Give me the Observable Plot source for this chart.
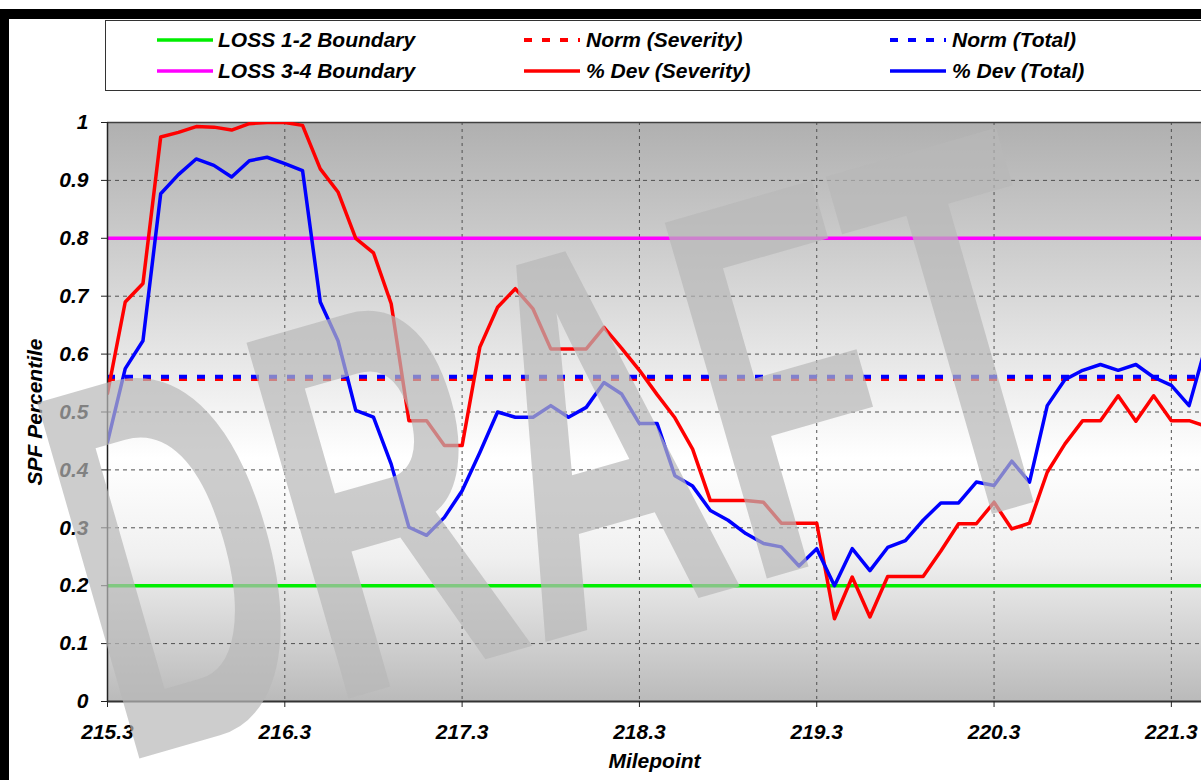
<!DOCTYPE html>
<html>
<head>
<meta charset="utf-8">
<script src="https://cdn.jsdelivr.net/npm/d3@7"></script>
<script src="https://cdn.jsdelivr.net/npm/@observablehq/plot@0.6"></script>
<style>
  html, body { margin: 0; padding: 0; background: #fff; overflow: hidden; width: 1201px; height: 780px; }
  #page { position: relative; width: 1201px; height: 780px; overflow: hidden; }
  #frame { position: absolute; left: 0; top: 9px; width: 1400px; height: 900px; border-left: 9px solid #000; border-top: 10px solid #000; box-sizing: border-box; z-index: 5; pointer-events: none; }
  #legend { position: absolute; left: 105px; top: 20px; width: 1200px; height: 69px; border: 1px solid #333; background: #fff; z-index: 3; }
  .lg { position: absolute; font: italic bold 21px "Liberation Sans", Arial, sans-serif; color: #000; line-height: 24px; white-space: nowrap; z-index: 4; }
  .sw { position: absolute; z-index: 4; }
  #chart { position: absolute; left: 0; top: 100px; z-index: 1; }
</style>
</head>
<body>
<div id="page">
  <div id="legend"></div>
  <div id="chart"></div>
  <div id="frame"></div>
</div>
<script>
// ---- data ----
const miles = [215.3, 215.4, 215.5, 215.6, 215.7, 215.8, 215.9, 216.0, 216.1, 216.2, 216.3, 216.4, 216.5, 216.6, 216.7, 216.8, 216.9,
  217.0, 217.1, 217.2, 217.3, 217.4, 217.5, 217.6, 217.7, 217.8, 217.9, 218.0, 218.1, 218.2, 218.3, 218.4, 218.5, 218.6, 218.7, 218.8, 218.9,
  219.0, 219.1, 219.2, 219.3, 219.4, 219.5, 219.6, 219.7, 219.8, 219.9, 220.0, 220.1, 220.2, 220.3, 220.4, 220.5, 220.6, 220.7, 220.8, 220.9,
  221.0, 221.1, 221.2, 221.3, 221.4, 221.5];
const devSeverity = [0.532, 0.69, 0.722, 0.975, 0.983, 0.993, 0.992, 0.987, 0.998, 1.0, 1.0, 0.995, 0.92, 0.88, 0.8, 0.775, 0.687,
  0.485, 0.485, 0.442, 0.442, 0.612, 0.681, 0.713, 0.678, 0.609, 0.609, 0.609, 0.646, 0.61, 0.572, 0.53, 0.49, 0.436, 0.347, 0.347, 0.347,
  0.344, 0.308, 0.308, 0.308, 0.143, 0.215, 0.146, 0.216, 0.216, 0.216, 0.26, 0.307, 0.307, 0.344, 0.298, 0.308, 0.396, 0.445, 0.485, 0.485,
  0.528, 0.484, 0.528, 0.485, 0.485, 0.475];
const devTotal = [0.448, 0.575, 0.623, 0.877, 0.91, 0.937, 0.926, 0.906, 0.934, 0.94, 0.929, 0.917, 0.69, 0.623, 0.503, 0.491, 0.41,
  0.301, 0.287, 0.318, 0.364, 0.43, 0.5, 0.491, 0.491, 0.511, 0.491, 0.508, 0.551, 0.531, 0.48, 0.48, 0.39, 0.372, 0.33, 0.313, 0.29,
  0.273, 0.267, 0.234, 0.264, 0.2, 0.264, 0.226, 0.266, 0.278, 0.313, 0.343, 0.343, 0.379, 0.373, 0.415, 0.379, 0.511, 0.556, 0.572, 0.582,
  0.572, 0.582, 0.56, 0.546, 0.511, 0.62];
const normSeverity = 0.557;
const normTotal = 0.561;
const loss12Boundary = 0.2;
const loss34Boundary = 0.8;
const xTicks = [215.3, 216.3, 217.3, 218.3, 219.3, 220.3, 221.3];
const yTicks = [0, 0.1, 0.2, 0.3, 0.4, 0.5, 0.6, 0.7, 0.8, 0.9, 1];
const legendItems = [
  {label: "LOSS 1-2 Boundary", color: "#00ee00", dash: null, col: 0, row: 0},
  {label: "LOSS 3-4 Boundary", color: "#ff00ff", dash: null, col: 0, row: 1},
  {label: "Norm (Severity)", color: "#ff0000", dash: "8,10", col: 1, row: 0},
  {label: "% Dev (Severity)", color: "#ff0000", dash: null, col: 1, row: 1},
  {label: "Norm (Total)", color: "#0000ff", dash: "8,10", col: 2, row: 0},
  {label: "% Dev (Total)", color: "#0000ff", dash: null, col: 2, row: 1}
];

const rows = miles.map((m, i) => ({mile: m, sev: devSeverity[i], tot: devTotal[i]}));
const font = "'Liberation Sans', Arial, sans-serif";

// ---- legend (HTML) ----
const page = document.getElementById("page");
const colSwatchX = [157, 524, 890];
const colTextX = [218, 586, 952];
const rowY = [40, 71];
legendItems.forEach(it => {
  const sw = document.createElementNS("http://www.w3.org/2000/svg", "svg");
  sw.setAttribute("class", "sw");
  sw.setAttribute("width", 56);
  sw.setAttribute("height", 8);
  sw.style.left = colSwatchX[it.col] + "px";
  sw.style.top = (rowY[it.row] - 4) + "px";
  const ln = document.createElementNS("http://www.w3.org/2000/svg", "line");
  ln.setAttribute("x1", 0); ln.setAttribute("x2", 56);
  ln.setAttribute("y1", 4); ln.setAttribute("y2", 4);
  ln.setAttribute("stroke", it.color);
  ln.setAttribute("stroke-width", it.dash ? 4 : 3.5);
  if (it.dash) ln.setAttribute("stroke-dasharray", it.dash);
  sw.appendChild(ln);
  page.appendChild(sw);
  const tx = document.createElement("div");
  tx.className = "lg";
  tx.textContent = it.label;
  tx.style.left = colTextX[it.col] + "px";
  tx.style.top = (rowY[it.row] - 12) + "px";
  page.appendChild(tx);
});

// ---- chart ----
const txt = {fontFamily: font, fontWeight: "bold", fontStyle: "italic", fontSize: 21, fill: "#000"};
const svg = Plot.plot({
  width: 1201,
  height: 680,
  marginLeft: 107,
  marginRight: 0,
  marginTop: 22,
  marginBottom: 79,
  x: {domain: [215.3, 221.47]},
  y: {domain: [0, 1]},
  style: {background: "transparent", fontFamily: font, color: "#000", overflow: "hidden"},
  marks: [
    Plot.frame({fill: "url(#bgGrad)", stroke: null}),
    Plot.gridX(xTicks, {stroke: "#505050", strokeOpacity: 1, strokeWidth: 1, strokeDasharray: "3,4"}),
    Plot.gridY(yTicks, {stroke: "#505050", strokeOpacity: 1, strokeWidth: 1, strokeDasharray: "4,4"}),
    Plot.ruleY([1], {stroke: "#404040", strokeWidth: 1.5}),
    Plot.ruleY([loss12Boundary], {stroke: "#00ee00", strokeWidth: 3.5}),
    Plot.ruleY([loss34Boundary], {stroke: "#ff00ff", strokeWidth: 3.5}),
    Plot.ruleY([normSeverity], {x1: 215.3, x2: 221.47, stroke: "#ff0000", strokeWidth: 4, strokeDasharray: "8,10"}),
    Plot.ruleY([normTotal], {x1: 215.3, x2: 221.47, stroke: "#0000ff", strokeWidth: 4, strokeDasharray: "8,10"}),
    Plot.lineY(rows, {x: "mile", y: "sev", stroke: "#ff0000", strokeWidth: 3.5, clip: true}),
    Plot.lineY(rows, {x: "mile", y: "tot", stroke: "#0000ff", strokeWidth: 3.5, clip: true}),
    Plot.ruleX([215.3], {stroke: "#222", strokeWidth: 1.5}),
    Plot.ruleY([0], {stroke: "#333", strokeWidth: 2}),
    Plot.axisY(yTicks, {tickSize: 6, tickPadding: 13, tickFormat: d => `${d}`, label: null, stroke: "#222", ...txt}),
    Plot.axisX(xTicks, {tickSize: 6, tickPadding: 17, tickFormat: d => d.toFixed(1), label: null, stroke: "#222", ...txt}),
    Plot.text(["SPF Percentile"], {frameAnchor: "left", dx: -72, rotate: -90, textAnchor: "middle", text: d => d, ...txt}),
    Plot.text(["Milepoint"], {frameAnchor: "bottom", dy: 66, textAnchor: "middle", text: d => d, ...txt})
  ]
});

const s = d3.select(svg);
s.insert("defs", ":first-child").html(`
  <linearGradient id="bgGrad" x1="0" y1="0" x2="0" y2="1">
    <stop offset="0" stop-color="#b0b0b0"/>
    <stop offset="0.3" stop-color="#d8d8d8"/>
    <stop offset="0.58" stop-color="#ffffff"/>
    <stop offset="0.75" stop-color="#f0f0f0"/>
    <stop offset="1" stop-color="#bababa"/>
  </linearGradient>`);
// DRAFT watermark
s.append("text")
  .attr("transform", "translate(120,664) rotate(-16) scale(0.56,1)")
  .attr("text-anchor", "start")
  .attr("font-family", font)
  .attr("font-weight", "bold")
  .attr("font-style", "normal")
  .attr("font-size", 538)
  .attr("fill", "#b8b8b8")
  .attr("fill-opacity", 0.7)
  .text("DRAFT");

document.getElementById("chart").appendChild(svg);
</script>
</body>
</html>
